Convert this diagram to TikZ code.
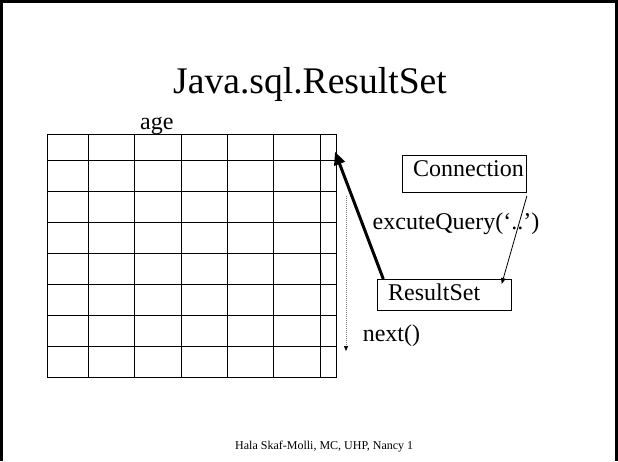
\documentclass[tikz,border=0pt]{standalone}
\usepackage{fontspec}
\setmainfont{Liberation Serif}
\usetikzlibrary{arrows.meta}
\begin{document}
\begin{tikzpicture}[x=1pt,y=-1pt,
  gridline/.style={line width=0.9pt},
  boxnode/.style={draw,line width=0.9pt,inner sep=0pt,anchor=north west},
  lbl/.style={anchor=base west,inner sep=0pt,font=\fontsize{24}{26}\selectfont},
  fwd/.style={line width=3pt,-{Triangle[length=13pt,width=11pt]}},
  thin/.style={line width=0.8pt,-{Triangle[length=6pt,width=4.5pt]}},
  nxt/.style={line width=0.7pt,gray,dash pattern=on 1pt off 1pt,-{Triangle[length=5pt,width=4pt,color=black]}}]
\useasboundingbox (0,0) rectangle (618,461);
% frame
\draw[line width=3pt] (1.5,461) -- (1.5,1.5) -- (616.5,1.5) -- (616.5,461);
% title
\node (title) at (310,93) [anchor=base,inner sep=0pt,font=\fontsize{37.6}{40}\selectfont] {Java.sql.ResultSet};
% grid
\node (grid) [draw,gridline,inner sep=0pt,anchor=north west,minimum width=289.3pt,minimum height=242.7pt] at (46.7,134.3) {};
\foreach \x in {88.3,134.7,181,227.3,273.7,320} \draw[gridline] (\x,134.3) -- (\x,377);
\foreach \y in {160.3,191.3,222.3,253.3,284.3,315.3,346.3} \draw[gridline] (46.7,\y) -- (336,\y);
\node (age) [lbl] at (140,129.5) {age};
% boxes
\node (conn) [boxnode,minimum width=123.7pt,minimum height=37pt] at (402.3,155) {};
\node (connt) [lbl] at (413,176.7) {Connection};
\node (rs) [boxnode,minimum width=133.7pt,minimum height=31pt] at (377.3,279) {};
\node (rst) [lbl] at (388,300) {ResultSet};
\node (eq) [lbl] at (372.5,229) {excuteQuery(‘..’)};
\node (next) [lbl] at (362.6,341.7) {next()};
% footer
\node (foot) at (235,449) [anchor=base west,inner sep=0pt,font=\fontsize{12}{14}\selectfont] {Hala Skaf-Molli, MC, UHP, Nancy 1};
% connectors
\coordinate (tip) at (335,151.7);
\draw[fwd] ([xshift=6pt]rs.north west) -- (tip);
\coordinate (rsin) at (501.7,284);
\draw[thin] ([yshift=-3pt]conn.south east) -- (rsin);
\coordinate (ntop) at (346,196);
\coordinate (nbot) at (346,351);
\draw[nxt] (ntop) -- (nbot);
\end{tikzpicture}
\end{document}
